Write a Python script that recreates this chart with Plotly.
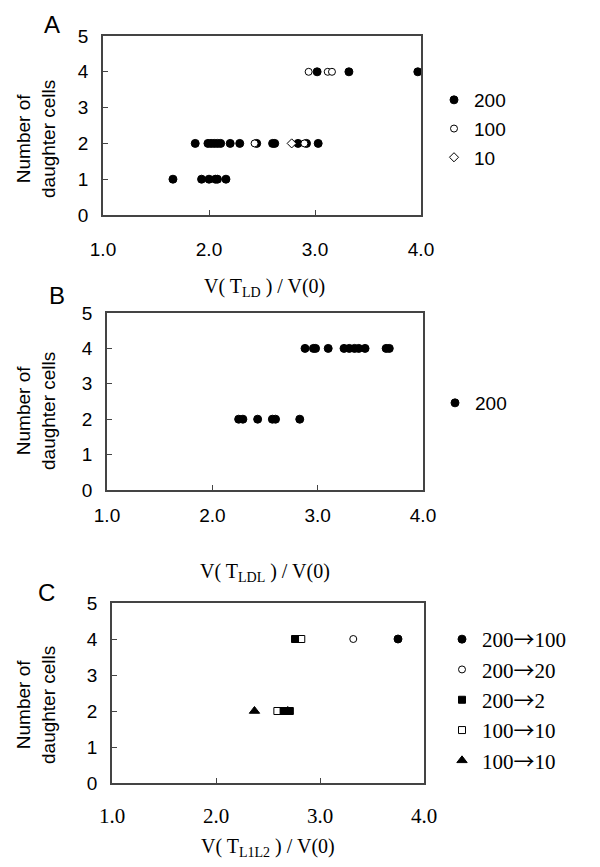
import plotly.graph_objects as go

# the page body adds an 8 px margin; the figure is sized to fill the rest
OFF = 8
W, H = 600 - OFF, 867 - OFF
SANS = "Liberation Sans, Arial, sans-serif"
SERIF = "Liberation Serif, Times New Roman, serif"
ARROW = '<span style="font-family:Noto Sans CJK SC">→</span>'

# ---------------- data ----------------
# Panel A
a_200_x = [3.02, 3.32, 3.97,
           1.87, 1.99, 2.02, 2.05, 2.08, 2.11, 2.20, 2.29, 2.45, 2.60, 2.62, 2.84, 2.92, 3.03,
           1.66, 1.93, 2.00, 2.06, 2.08, 2.16]
a_200_y = [4, 4, 4,
           2, 2, 2, 2, 2, 2, 2, 2, 2, 2, 2, 2, 2, 2,
           1, 1, 1, 1, 1, 1]
a_100_x = [2.94, 3.12, 3.16, 2.43, 2.90]
a_100_y = [4, 4, 4, 2, 2]
a_10_x = [2.78]
a_10_y = [2]

# Panel B
b_200_x = [2.88, 2.96, 2.98, 3.10, 3.25, 3.30, 3.35, 3.39, 3.45, 3.65, 3.68,
           2.25, 2.29, 2.43, 2.57, 2.60, 2.83]
b_200_y = [4, 4, 4, 4, 4, 4, 4, 4, 4, 4, 4,
           2, 2, 2, 2, 2, 2]

# Panel C
c_200_100_x, c_200_100_y = [3.75], [4]
c_200_20_x, c_200_20_y = [3.32], [4]
c_200_2_x, c_200_2_y = [2.76, 2.65, 2.71], [4, 2, 2]
c_100_10s_x, c_100_10s_y = [2.82, 2.59], [4, 2]
c_100_10t_x, c_100_10t_y = [2.37, 2.69], [2, 2]

x_ticks = [1.0, 2.0, 3.0, 4.0]
x_ticktext = ["1.0", "2.0", "3.0", "4.0"]
y_ticks = [0, 1, 2, 3, 4, 5]

legend_a = ["200", "100", "10"]
legend_b = ["200"]
legend_c = ["200" + ARROW + "100", "200" + ARROW + "20", "200" + ARROW + "2",
            "100" + ARROW + "10", "100" + ARROW + "10"]

x_titles = ["V( T<sub>LD</sub> ) / V(0)", "V( T<sub>LDL</sub> ) / V(0)", "V( T<sub>L1L2</sub> ) / V(0)"]
y_title = "Number of<br>daughter cells"
panel_letters = ["A", "B", "C"]

# ---------------- layout helpers ----------------
def px_x(x):
    return (x - OFF) / W

def px_y(y):
    return 1 - (y - OFF) / H

panels = [  # (left, right, top, bottom) in window pixels
    (103, 421, 36, 215),
    (107, 423, 313, 490),
    (112, 424, 603, 783),
]

fig = go.Figure()

filled_circle = dict(symbol="circle", size=8, color="black", line=dict(color="black", width=1))
open_circle = dict(symbol="circle", size=7, color="white", line=dict(color="black", width=1))
open_diamond = dict(symbol="diamond", size=7, color="white", line=dict(color="black", width=1))
filled_square = dict(symbol="square", size=7, color="black", line=dict(color="black", width=1))
open_square = dict(symbol="square", size=7, color="white", line=dict(color="black", width=1))
filled_tri = dict(symbol="triangle-up", size=9, color="black", line=dict(color="black", width=1))

def add(x, y, name, marker, ax, legend, group, rank):
    fig.add_trace(go.Scatter(x=x, y=y, mode="markers", name=name, marker=marker,
                             xaxis="x" + ax, yaxis="y" + ax, legend=legend,
                             legendgroup=group, legendrank=rank, showlegend=True))

add(a_200_x, a_200_y, legend_a[0], filled_circle, "", "legend", "a1", 1)
add(a_100_x, a_100_y, legend_a[1], open_circle, "", "legend", "a2", 2)
add(a_10_x, a_10_y, legend_a[2], open_diamond, "", "legend", "a3", 3)

add(b_200_x, b_200_y, legend_b[0], filled_circle, "2", "legend2", "b1", 1)

add(c_200_100_x, c_200_100_y, legend_c[0], filled_circle, "3", "legend3", "c1", 1)
add(c_200_20_x, c_200_20_y, legend_c[1], open_circle, "3", "legend3", "c2", 2)
add(c_100_10s_x, c_100_10s_y, legend_c[3], open_square, "3", "legend3", "c4", 4)
add(c_200_2_x, c_200_2_y, legend_c[2], filled_square, "3", "legend3", "c3", 3)
add(c_100_10t_x, c_100_10t_y, legend_c[4], filled_tri, "3", "legend3", "c5", 5)

layout = dict(
    width=W, height=H, margin=dict(l=0, r=0, t=0, b=0, autoexpand=False),
    paper_bgcolor="white", plot_bgcolor="white", showlegend=True,
)

xstand = [16, 7, 13]
xfont = [dict(family=SANS, size=19, color="black"),
         dict(family=SANS, size=19, color="black"),
         dict(family=SERIF, size=21, color="black")]
for i, (l, r, t, b) in enumerate(panels):
    sx = "" if i == 0 else str(i + 1)
    layout["xaxis" + sx] = dict(
        domain=[px_x(l), px_x(r)], range=[1.0, 4.0], anchor="y" + sx, automargin=False,
        tickvals=x_ticks, ticktext=x_ticktext, ticks="inside", ticklen=5,
        tickcolor="#444", showline=True, linecolor="#444", linewidth=1.5, mirror=True,
        showgrid=False, zeroline=False, tickfont=xfont[i], ticklabelstandoff=xstand[i],
    )
    layout["yaxis" + sx] = dict(
        domain=[px_y(b), px_y(t)], range=[0, 5], anchor="x" + sx, automargin=False,
        tickvals=y_ticks, ticks="inside", ticklen=5, tickcolor="#444",
        showline=True, linecolor="#444", linewidth=1.5, mirror=True,
        showgrid=False, zeroline=False,
        tickfont=dict(family=SANS, size=19, color="black"), ticklabelstandoff=9,
    )

legend_common = dict(bgcolor="rgba(0,0,0,0)", borderwidth=0, xanchor="left", yanchor="top",
                     traceorder="grouped", itemwidth=30)
layout["legend"] = dict(legend_common, x=px_x(434), y=px_y(81), tracegroupgap=1,
                        font=dict(family=SANS, size=19, color="black"))
layout["legend2"] = dict(legend_common, x=px_x(435), y=px_y(384), tracegroupgap=1,
                         font=dict(family=SANS, size=19, color="black"))
layout["legend3"] = dict(legend_common, x=px_x(442), y=px_y(619), tracegroupgap=0,
                         font=dict(family=SERIF, size=21, color="black"))

annotations = []
letter_pos = [(52, 25), (57, 295), (47, 592)]
for (lx, ly), letter in zip(letter_pos, panel_letters):
    annotations.append(dict(text=letter, x=px_x(lx), y=px_y(ly), xref="paper", yref="paper",
                            xanchor="center", yanchor="middle",
                            showarrow=False, font=dict(family=SANS, size=24, color="black")))
ytitle_y = [139, 411, 705]
for yy in ytitle_y:
    annotations.append(dict(text=y_title, x=px_x(36), y=px_y(yy), xref="paper", yref="paper",
                            xanchor="center", yanchor="middle",
                            showarrow=False, textangle=-90,
                            font=dict(family=SANS, size=19, color="black")))
xtitle_pos = [(264, 287), (265, 572), (268, 847)]
for (tx, ty), txt in zip(xtitle_pos, x_titles):
    annotations.append(dict(text=txt, x=px_x(tx), y=px_y(ty), xref="paper", yref="paper",
                            xanchor="center", yanchor="middle",
                            showarrow=False, font=dict(family=SERIF, size=20, color="black")))
layout["annotations"] = annotations

fig.update_layout(**layout)
fig.write_html("out.html")
